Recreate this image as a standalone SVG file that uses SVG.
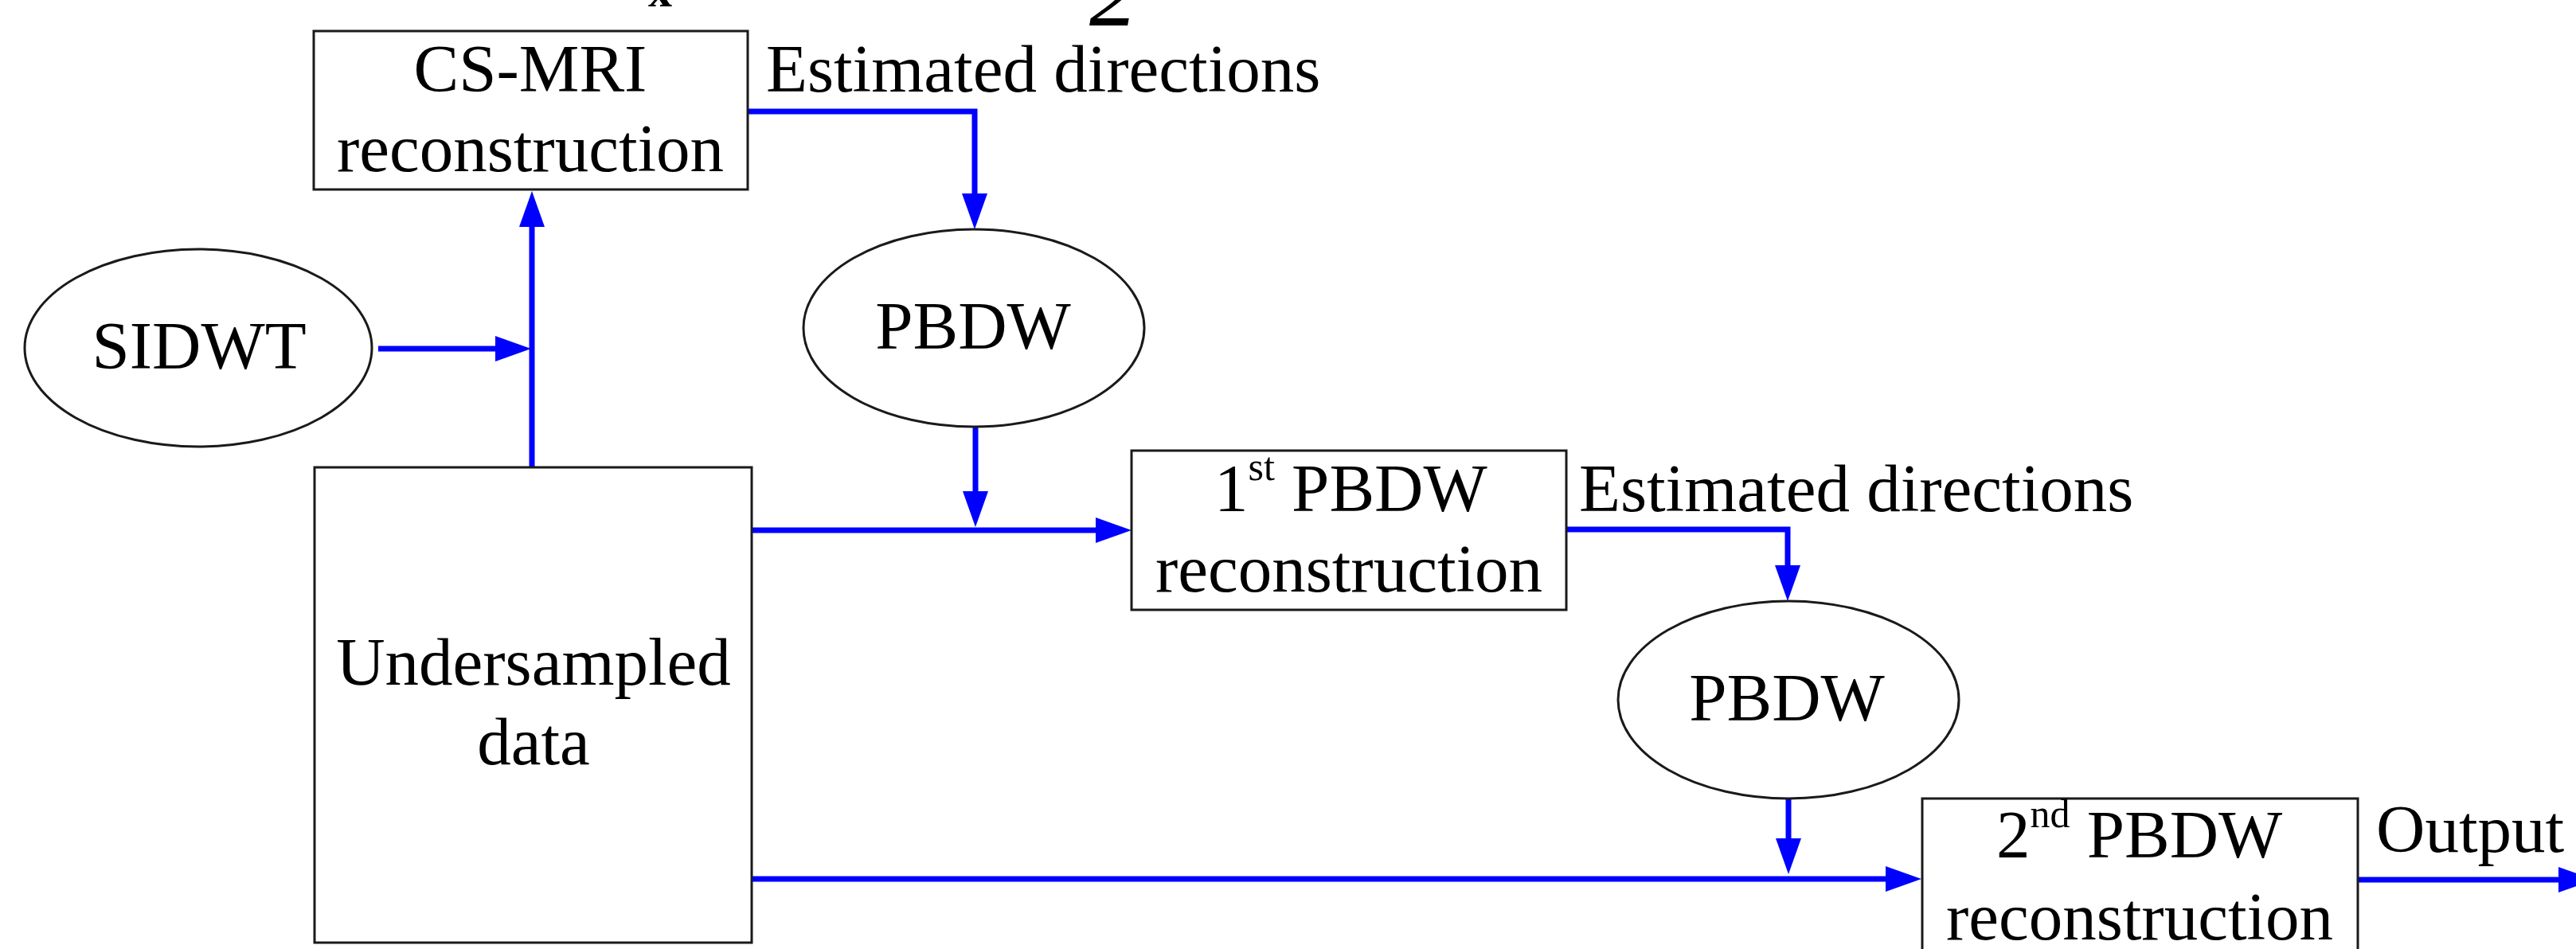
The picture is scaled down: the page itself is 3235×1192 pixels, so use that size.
<svg xmlns="http://www.w3.org/2000/svg" width="3235" height="1192" viewBox="0 0 3235 1192">
<style>
  .box { fill: #ffffff; stroke: #1a1a1a; stroke-width: 3; }
  .ell { fill: #ffffff; stroke: #1a1a1a; stroke-width: 3; }
  .t { font-family: "Liberation Serif", "Times New Roman", serif; font-size: 85px; fill: #000000; }
  .c { text-anchor: middle; }
  .sup { font-size: 50px; }
  .wire { fill: none; stroke: #0000ff; stroke-width: 7; stroke-linejoin: miter; }
  .arr { marker-end: url(#ah); }
</style>
<defs>
  <marker id="ah" markerUnits="userSpaceOnUse" markerWidth="46" markerHeight="34" viewBox="0 -17 46 34" refX="0" refY="0" orient="auto" overflow="visible">
    <path d="M0,-16 L45,0 L0,16 Z" fill="#0000ff"/>
  </marker>
</defs>
<rect width="3235" height="1192" fill="#ffffff"/>

<!-- cut-off fragments of text above the picture -->
<text class="t" x="814" y="8" style="font-size:60px;font-weight:bold">x</text>
<text class="t" x="1368" y="32" style="font-size:120px;font-style:italic">2</text>

<g id="connectors">
  <path class="wire arr" d="M668,587 L668,285"/>
  <path class="wire arr" d="M475,438 L622,438"/>
  <path class="wire arr" d="M939,140 L1224,140 L1224,243"/>
  <path class="wire arr" d="M1225,537 L1225,617"/>
  <path class="wire arr" d="M944,666 L1376,666"/>
  <path class="wire arr" d="M1967,665 L2245,665 L2245,710"/>
  <path class="wire arr" d="M2246,1003 L2246,1053"/>
  <path class="wire arr" d="M944,1104 L2368,1104"/>
  <path class="wire arr" d="M2961,1105 L3213,1105"/>
</g>

<g id="cs-mri">
  <rect class="box" x="394" y="39" width="545" height="199"/>
  <text class="t c" x="666" y="115">CS-MRI</text>
  <text class="t c" x="666" y="215">reconstruction</text>
</g>

<g id="label-est1">
  <text class="t" x="962" y="115">Estimated directions</text>
</g>

<g id="sidwt">
  <ellipse class="ell" cx="249" cy="437" rx="218" ry="124"/>
  <text class="t c" x="250" y="463">SIDWT</text>
</g>

<g id="pbdw1">
  <ellipse class="ell" cx="1223" cy="412" rx="214" ry="124"/>
  <text class="t c" x="1222" y="438">PBDW</text>
</g>

<g id="undersampled">
  <rect class="box" x="395" y="587" width="549" height="597"/>
  <text class="t c" x="670" y="860">Undersampled</text>
  <text class="t c" x="670" y="960">data</text>
</g>

<g id="pbdw-rec1">
  <rect class="box" x="1421" y="566" width="546" height="200"/>
  <text class="t" x="1525" y="642">1<tspan class="sup" dy="-39">st</tspan><tspan dy="39"> PBDW</tspan></text>
  <text class="t c" x="1694" y="743">reconstruction</text>
</g>

<g id="label-est2">
  <text class="t" x="1983" y="642">Estimated directions</text>
</g>

<g id="pbdw2">
  <ellipse class="ell" cx="2246" cy="879" rx="214" ry="124"/>
  <text class="t c" x="2244" y="905">PBDW</text>
</g>

<g id="pbdw-rec2">
  <rect class="box" x="2414" y="1003" width="547" height="210"/>
  <text class="t" x="2507" y="1077">2<tspan class="sup" dy="-38">nd</tspan><tspan dy="38"> PBDW</tspan></text>
  <text class="t c" x="2687" y="1180">reconstruction</text>
</g>

<g id="label-output">
  <text class="t" x="2984" y="1070">Output</text>
</g>
</svg>
